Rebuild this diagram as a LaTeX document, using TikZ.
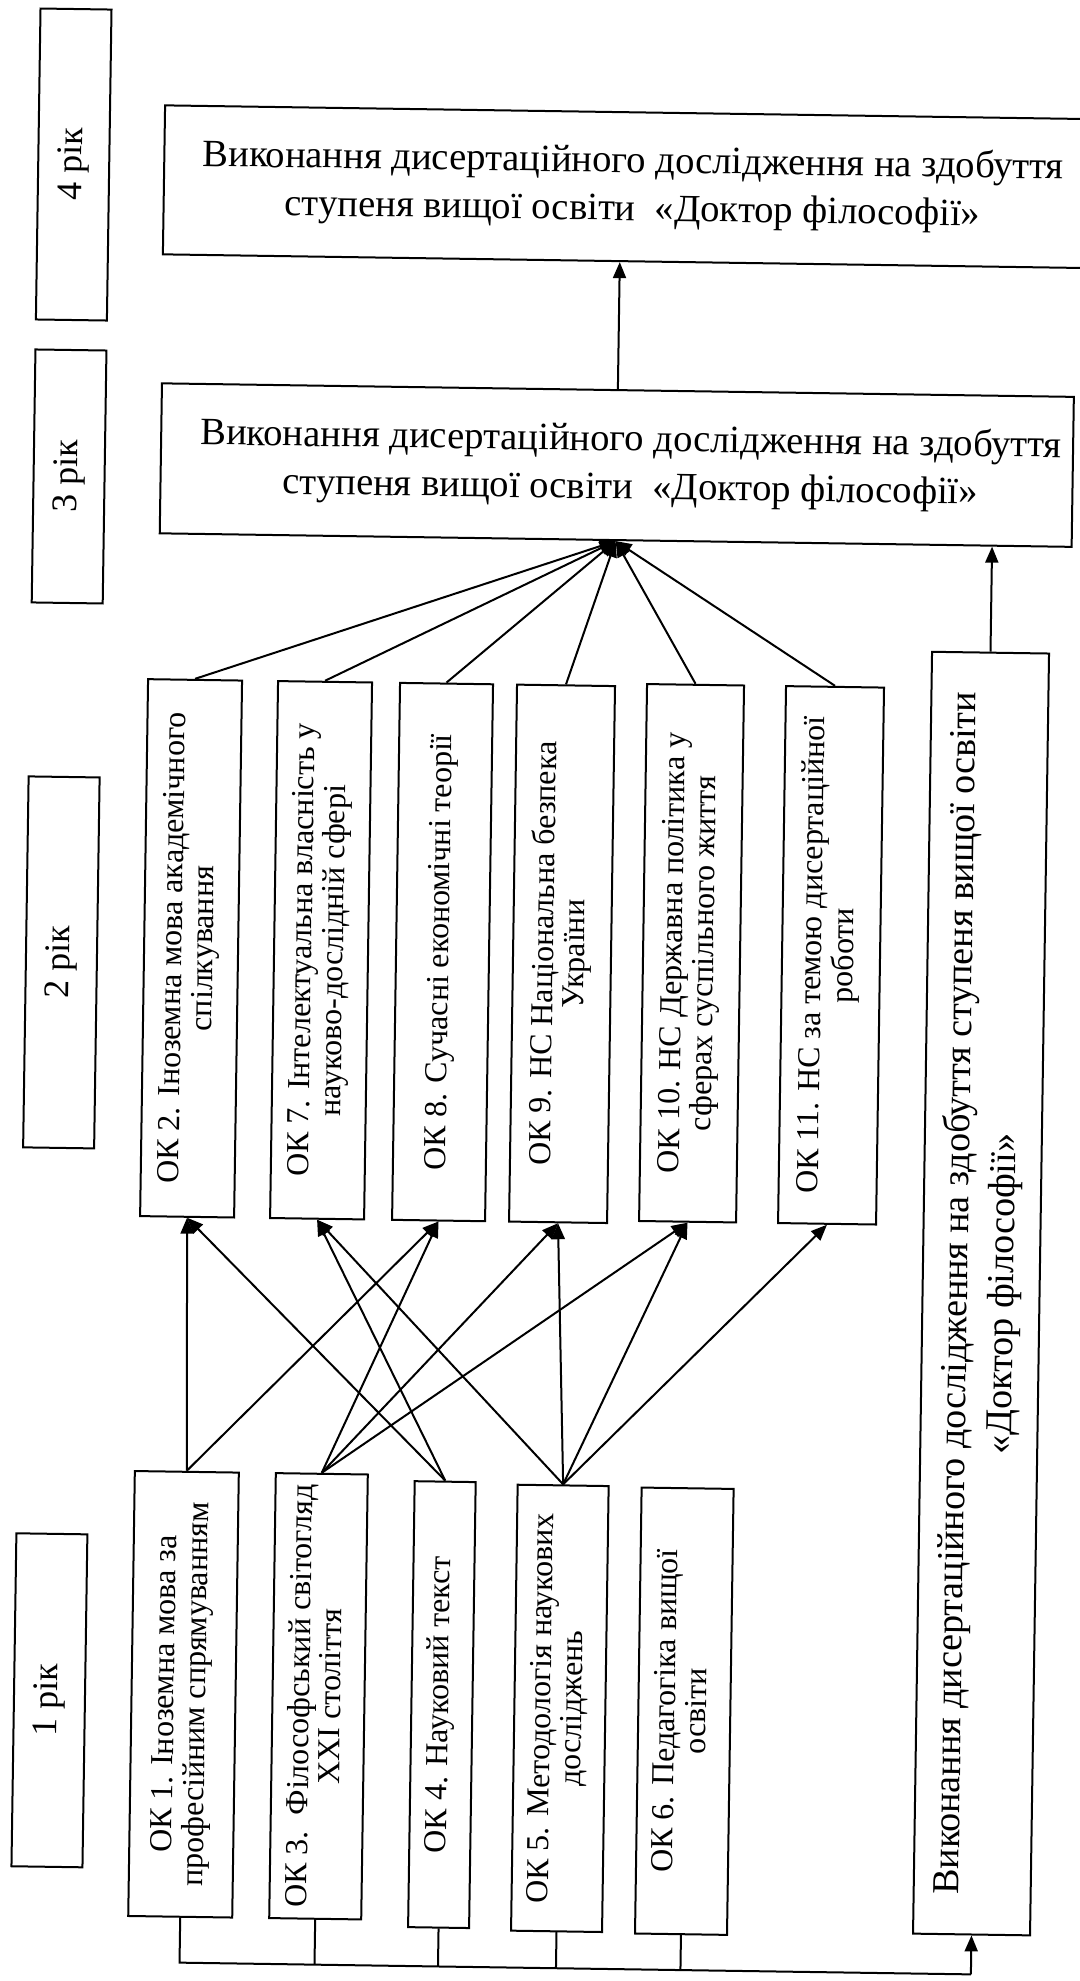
\documentclass[tikz,border=0pt]{standalone}
\usepackage{fontspec}
\setmainfont{Liberation Serif}
\usetikzlibrary{arrows.meta}
\newcommand\vtext[1]{\rotatebox{90}{\begin{tabular}{@{}c@{}}#1\end{tabular}}}
\begin{document}
\begin{tikzpicture}[x=0.5pt,y=-0.5pt,
  bx/.style={draw, line width=1pt, inner sep=0pt, align=center},
  yearbox/.style={bx, minimum width=35.5pt, font=\fontsize{18}{21}\selectfont},
  mainbox/.style={bx, font=\fontsize{19.3}{24}\selectfont},
  colbox/.style={bx, font=\fontsize{16}{15.5}\selectfont},
  tallbox/.style={bx, font=\fontsize{19}{23}\selectfont},
  ln/.style={line width=1pt},
  arr/.style={line width=1pt, -{Triangle[length=8pt,width=6.5pt]}}]
\fill[white] (0,0) rectangle (1080,1981);
\useasboundingbox (0,0) rectangle (1080,1981);
\begin{scope}[rotate around={-0.85:(540,990)}, transform shape]
% year boxes
\node[yearbox, minimum height=155.5pt] (y4) at (61.5,171.5) {\rotatebox{90}{4 рік}};
\node[yearbox, minimum height=126.5pt] (y3) at (61.5,483.5) {\rotatebox{90}{3 рік}};
\node[yearbox, minimum height=185.5pt] (y2) at (61,969.5) {\rotatebox{90}{2 рік}};
\node[yearbox, minimum height=166.5pt] (y1) at (60,1707.5) {\rotatebox{90}{1 рік}};
% main boxes
\node[mainbox, minimum width=469pt, minimum height=74.5pt] (b4) at (621,185.5)
  {Виконання дисертаційного дослідження на здобуття\\ступеня вищої освіти~~«Доктор філософії»};
\node[mainbox, minimum width=456pt, minimum height=75pt] (b3) at (609,464)
  {\hspace*{14pt}Виконання дисертаційного дослідження на здобуття\\\hspace*{14pt}ступеня вищої освіти~~«Доктор філософії»};
% second year
\node[colbox, minimum width=47pt, minimum height=268.5pt] (ok2) at (190.5,953.5)
  {\vtext{ОК 2. Іноземна мова академічного\\спілкування}};
\node[colbox, minimum width=47pt, minimum height=268.5pt] (ok7) at (320.5,953.5)
  {\vtext{ОК 7. Інтелектуальна власність у\\науково-дослідній сфері}};
\node[colbox, minimum width=46.5pt, minimum height=268.5pt] (ok8) at (442,953.5)
  {\vtext{ОК 8. Сучасні економічні теорії}};
\node[colbox, minimum width=49pt, minimum height=268.5pt] (ok9) at (561.5,953.5)
  {\vtext{ОК 9. НС Національна безпека\\України}};
\node[colbox, minimum width=48.5pt, minimum height=268.5pt] (ok10) at (691,951)
  {\vtext{ОК 10. НС Державна політика у\\сферах суспільного життя}};
\node[colbox, minimum width=49pt, minimum height=268.5pt] (ok11) at (830.5,951)
  {\vtext{ОК 11. НС за темою дисертаційної\\роботи}};
\node[tallbox, minimum width=58.5pt, minimum height=641pt] (tall) at (985.5,1287)
  {\rotatebox{90}{\begin{tabular}{@{}c@{}}Виконання дисертаційного дослідження на здобуття ступеня вищої освіти\\«Доктор філософії»\end{tabular}}};
% first year
\node[colbox, minimum width=52pt, minimum height=222.5pt] (ok1) at (194,1699.5)
  {\vtext{ОК 1. Іноземна мова за\\професійним спрямуванням}};
\node[colbox, minimum width=46pt, minimum height=222.5pt] (ok3) at (329,1699.5)
  {\vtext{ОК 3.~~Філософський світогляд\\XXI століття}};
\node[colbox, minimum width=30.5pt, minimum height=223pt] (ok4) at (452.5,1706)
  {\vtext{ОК 4. Науковий текст}};
\node[colbox, minimum width=45.5pt, minimum height=223pt] (ok5) at (570.5,1708)
  {\vtext{ОК 5. Методологія наукових\\досліджень}};
\node[colbox, minimum width=46pt, minimum height=223pt] (ok6) at (695,1709)
  {\vtext{ОК 6. Педагогіка вищої\\освіти}};
% connectors
\draw[arr] (b3.north) -- (b3.north |- b4.south);
\foreach \n in {ok2,ok7,ok8,ok9,ok10,ok11} \draw[arr] (\n.north) -- (b3.south);
\draw[arr] (tall.north) -- (tall.north |- b3.south);
\coordinate (bus) at (0,1968);
\draw[ln] (ok1.south) -- (ok1.south |- bus) -- (tall.south |- bus);
\draw[arr] (tall.south |- bus) -- (tall.south);
\foreach \n in {ok3,ok4,ok5,ok6} \draw[ln] (\n.south) -- (\n.south |- bus);
\draw[arr] (ok1.north) -- (ok2.south);
\draw[arr] (ok1.north) -- (ok8.south);
\draw[arr] (ok3.north) -- (ok8.south);
\draw[arr] (ok3.north) -- (ok9.south);
\draw[arr] (ok3.north) -- (ok10.south);
\draw[arr] (ok4.north) -- (ok2.south);
\draw[arr] (ok4.north) -- (ok7.south);
\draw[arr] (ok5.north) -- (ok7.south);
\draw[arr] (ok5.north) -- (ok9.south);
\draw[arr] (ok5.north) -- (ok10.south);
\draw[arr] (ok5.north) -- (ok11.south);
\end{scope}
\end{tikzpicture}
\end{document}
